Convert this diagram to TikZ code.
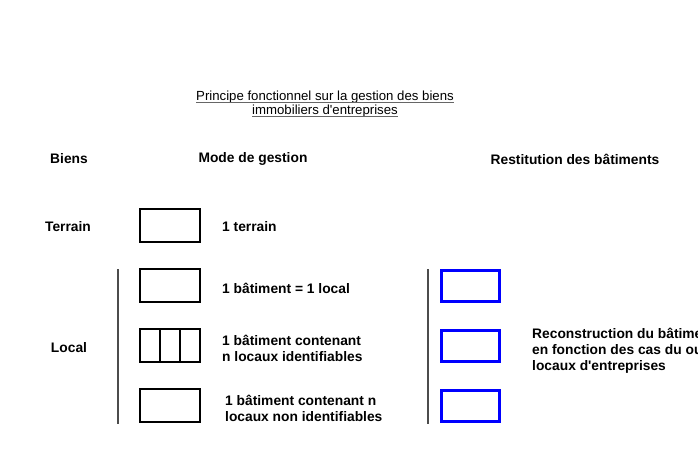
\documentclass[tikz,border=0pt]{standalone}
\usepackage{fontspec}
\setmainfont{Liberation Sans}
\usetikzlibrary{calc}

\begin{document}
\begin{tikzpicture}[x=1pt,y=-1pt,
    lbl/.style={font=\bfseries\fontsize{13.8}{16}\selectfont,inner sep=0pt},
    txt/.style={lbl,anchor=west,align=left},
    ttl/.style={font=\fontsize{13.2}{14}\selectfont,inner sep=0pt},
    bat/.style={draw,line width=1.8pt,minimum width=60pt,minimum height=33pt,inner sep=0pt},
    rest/.style={draw=blue,line width=3pt,minimum width=58pt,minimum height=31pt,inner sep=0pt},
    sep/.style={draw=black!70,line width=2.2pt}]
            \useasboundingbox (0,0) rectangle (698,448);
            \clip (0,0) rectangle (698,448);

            % titre
            \node[ttl] (t1) at (325,97) {Principe fonctionnel sur la gestion des biens\ };
            \node[ttl] (t2) at (325,111) {immobiliers d\textquotesingle entreprises};
            \draw[black!60,line width=0.8pt] ($(t1.base west)+(0,2)$) -- ($(t1.base east)+(0,2)$);
            \draw[black!60,line width=0.8pt] ($(t2.base west)+(0,2)$) -- ($(t2.base east)+(0,2)$);

            % entetes
            \node[lbl] (biens) at (69,159) {Biens};
            \node[lbl] (mode) at (253,159) {Mode de gestion};
            \node[lbl] (restit) at (575,159) {Restitution des bâtiments};

            \node[lbl] (terrain) at (68,227) {Terrain};
            \node[lbl] (local) at (69,348) {Local};

            % mode de gestion
            \node[bat] (b1) at (170,225.5) {};
            \node[bat] (b2) at (170,285.5) {};
            \node[bat] (b3) at (170,345.5) {};
            \node[bat] (b4) at (170,405.5) {};
            \draw[line width=1.8pt] ($(b3.north west)!1/3!(b3.north east)$) -- ($(b3.south west)!1/3!(b3.south east)$);
            \draw[line width=1.8pt] ($(b3.north west)!2/3!(b3.north east)$) -- ($(b3.south west)!2/3!(b3.south east)$);

            \node[txt] (l1) at (222,227) {1 terrain};
            \node[txt] (l2) at (222,288) {1 bâtiment = 1 local};
            \node[txt] (l3) at (222,348) {1 bâtiment contenant\\n locaux identifiables};
            \node[txt] (l4) at (225,408) {1 bâtiment contenant n\\locaux non identifiables};

            \coordinate (s1) at (118,269);
            \coordinate (s2) at (118,424);
            \draw[sep] (s1) -- (s2);

            % restitution
            \node[rest] (r1) at (470,285.5) {};
            \node[rest] (r2) at (470,346) {};
            \node[rest] (r3) at (470,405.5) {};
            \coordinate (s3) at (428,269);
            \coordinate (s4) at (428,424);
            \draw[sep] (s3) -- (s4);

            \node[txt] (recon) at (532,351) {Reconstruction du bâtiment\\en fonction des cas du ou des\\locaux d\textquotesingle entreprises};

        \end{tikzpicture}
\end{document}
